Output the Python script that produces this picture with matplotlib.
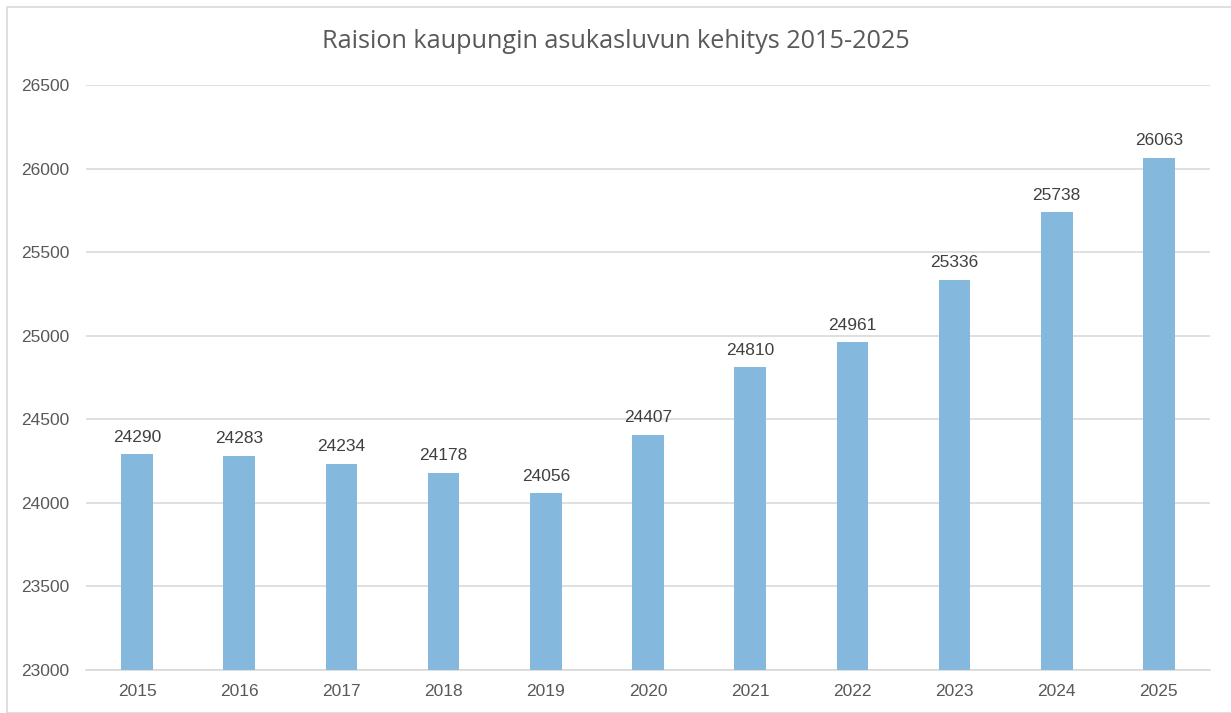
import matplotlib
matplotlib.use("Agg")
import matplotlib.pyplot as plt
from matplotlib.patches import Rectangle

years = ["2015", "2016", "2017", "2018", "2019", "2020", "2021", "2022", "2023", "2024", "2025"]
population = [24290, 24283, 24234, 24178, 24056, 24407, 24810, 24961, 25336, 25738, 26063]
y_ticks = [23000, 23500, 24000, 24500, 25000, 25500, 26000, 26500]
title = "Raision kaupungin asukasluvun kehitys 2015-2025"

W, H = 1231, 713
fig = plt.figure(figsize=(W / 100, H / 100), dpi=100)
fig.patch.set_facecolor("white")

# outer chart border
fig.add_artist(Rectangle((7 / W, 0), (W - 7) / W + 0.01, (H - 7) / H,
                         transform=fig.transFigure, fill=False,
                         edgecolor="#D9D9D9", linewidth=1.2))

left, right, top, bottom = 86, 1210, 85, 670
ax = fig.add_axes([left / W, 1 - bottom / H, (right - left) / W, (bottom - top) / H])

x = list(range(len(years)))
ax.bar(x, [p - y_ticks[0] for p in population], bottom=y_ticks[0], width=0.31,
       color="#85B8DD", zorder=3)

for xi, p in zip(x, population):
    ax.annotate(str(p), (xi, p), xytext=(0, 7), textcoords="offset points",
                ha="center", va="bottom", fontsize=12.5, color="#404040",
                family="Liberation Sans")

ax.set_xlim(-0.5, len(years) - 0.5)
ax.set_ylim(y_ticks[0], y_ticks[-1])
ax.set_yticks(y_ticks)
ax.set_yticklabels([str(t) for t in y_ticks])
ax.set_xticks(x)
ax.set_xticklabels(years)
ax.yaxis.grid(True, color="#D9D9D9", linewidth=1.2, zorder=0)
ax.set_axisbelow(True)
for s in ["top", "right", "left"]:
    ax.spines[s].set_visible(False)
ax.spines["bottom"].set_color("#D9D9D9")
ax.spines["bottom"].set_linewidth(1.2)
ax.tick_params(axis="both", length=0, labelsize=12.5, labelcolor="#595959")
ax.tick_params(axis="y", pad=12)
ax.tick_params(axis="x", pad=10)
for lbl in ax.get_xticklabels() + ax.get_yticklabels():
    lbl.set_family("Liberation Sans")

fig.text(0.5, 1 - 42 / H, title, ha="center", va="center", fontsize=18.2,
         color="#595959", family="Open Sans")

fig.savefig("out.png", dpi=100, facecolor="white")
